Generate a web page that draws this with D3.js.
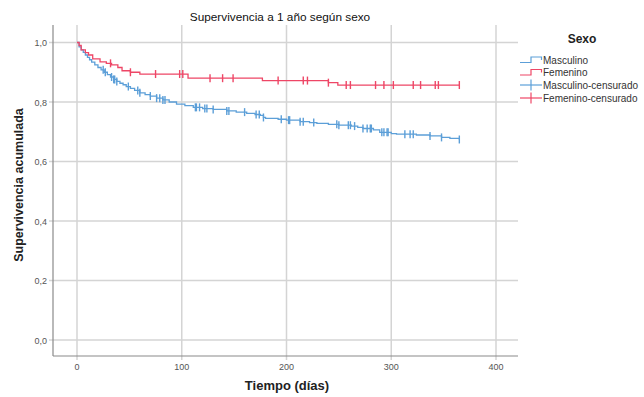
<!DOCTYPE html>
<html>
<head>
<meta charset="utf-8">
<script src="https://cdn.jsdelivr.net/npm/d3@7"></script>
<style>
  body { margin: 0; background: #fff; }
  text { font-family: "Liberation Sans", Arial, sans-serif; }
</style>
</head>
<body>
<script>
// Kaplan-Meier steps (time in days, cumulative survival)
const mascTime = [0, 2, 4, 6, 8, 10, 12, 14, 17, 20, 23, 26, 29, 32, 35, 38, 41, 44, 47, 51, 55, 60, 65, 70, 76, 82, 88, 95, 103, 111, 120, 130, 143, 152, 162, 170, 175, 178, 180, 192, 200, 213, 222, 229, 240, 250, 262, 268, 273, 283, 289, 300, 305, 324, 337, 348, 356, 365];
const mascSurv = [1.0, 0.985, 0.975, 0.967, 0.958, 0.95, 0.942, 0.934, 0.925, 0.916, 0.908, 0.9, 0.892, 0.884, 0.876, 0.869, 0.863, 0.858, 0.852, 0.846, 0.839, 0.831, 0.825, 0.82, 0.813, 0.807, 0.8, 0.793, 0.788, 0.782, 0.778, 0.775, 0.77, 0.766, 0.762, 0.758, 0.755, 0.748, 0.745, 0.742, 0.739, 0.734, 0.731, 0.728, 0.725, 0.722, 0.719, 0.715, 0.711, 0.706, 0.698, 0.694, 0.692, 0.689, 0.686, 0.681, 0.678, 0.674];
const femTime = [0, 2, 4, 8, 11, 15, 22, 28, 33, 39, 43, 51, 60, 106, 177, 240, 249, 365];
const femSurv = [1.0, 0.99, 0.975, 0.966, 0.958, 0.945, 0.935, 0.93, 0.925, 0.916, 0.905, 0.9, 0.894, 0.88, 0.872, 0.865, 0.857, 0.857];

// censored observations (days)
const mascCens = [25, 27, 33, 35, 36, 38, 49, 58, 60, 70, 76, 79, 82, 84, 113, 114, 117, 122, 124, 130, 143, 145, 160, 171, 174, 178, 195, 202, 203, 213, 216, 226, 248, 250, 259, 261, 265, 273, 277, 280, 281, 291, 293, 296, 297, 313, 318, 321, 337, 348, 365];
const femCens = [32, 51, 75, 98, 101, 127, 139, 149, 192, 216, 220, 240, 257, 261, 285, 293, 302, 321, 328, 342, 345, 365];

const xTicks = [0, 100, 200, 300, 400];
const yTicks = [0, 0.2, 0.4, 0.6, 0.8, 1.0];
const legendLabels = ["Masculino", "Femenino", "Masculino-censurado", "Femenino-censurado"];

const blue = "#5c9fd8";
const red = "#ee4666";

const W = 644, H = 397;
const svg = d3.select("body").append("svg").attr("width", W).attr("height", H);

const x = d3.scaleLinear().domain([0, 400]).range([77, 496]);
const y = d3.scaleLinear().domain([0, 1]).range([340, 42.5]);
const plotL = 53, plotR = 518, plotT = 25, plotB = 356;

// grid
svg.append("g").selectAll("line").data(yTicks).join("line")
  .attr("x1", plotL - 4).attr("x2", plotR)
  .attr("y1", d => y(d)).attr("y2", d => y(d))
  .attr("stroke", "#d4d4d4").attr("stroke-width", 1.5);
svg.append("g").selectAll("line").data(xTicks).join("line")
  .attr("x1", d => x(d)).attr("x2", d => x(d))
  .attr("y1", plotT).attr("y2", plotB + 4)
  .attr("stroke", "#d4d4d4").attr("stroke-width", 1.5);

// axes
svg.append("line").attr("x1", plotL).attr("x2", plotL).attr("y1", plotT).attr("y2", plotB)
  .attr("stroke", "#8a8a8a").attr("stroke-width", 1.2);
svg.append("line").attr("x1", plotL).attr("x2", plotR).attr("y1", plotB).attr("y2", plotB)
  .attr("stroke", "#8a8a8a").attr("stroke-width", 1.2);

const fmt = d => d3.format(".1f")(d).replace(".", ",");
svg.append("g").selectAll("text").data(yTicks).join("text")
  .attr("x", 47).attr("y", d => y(d) + 3.5)
  .attr("text-anchor", "end").attr("font-size", 9).attr("fill", "#555")
  .text(fmt);
svg.append("g").selectAll("text").data(xTicks).join("text")
  .attr("x", d => x(d)).attr("y", 370)
  .attr("text-anchor", "middle").attr("font-size", 9).attr("fill", "#555")
  .text(d => d);

// titles
svg.append("text").attr("x", 280).attr("y", 21).attr("text-anchor", "middle")
  .attr("font-size", 11.8).attr("fill", "#111").text("Supervivencia a 1 año según sexo");
svg.append("text").attr("x", 287).attr("y", 390).attr("text-anchor", "middle")
  .attr("font-size", 13).attr("font-weight", "bold").attr("fill", "#222").text("Tiempo (días)");
svg.append("text").attr("transform", "translate(23,185) rotate(-90)").attr("text-anchor", "middle")
  .attr("font-size", 12.5).attr("font-weight", "bold").attr("fill", "#222").text("Supervivencia acumulada");

// curves
const line = d3.line().x(d => x(d[0])).y(d => y(d[1])).curve(d3.curveStepAfter);
function survAt(times, surv, t) {
  const i = d3.bisectRight(times, t) - 1;
  return surv[Math.max(0, i)];
}
function drawGroup(times, surv, cens, color) {
  const pts = times.map((t, i) => [t, surv[i]]);
  svg.append("path").datum(pts).attr("d", line)
    .attr("fill", "none").attr("stroke", color).attr("stroke-width", 1.3);
  svg.append("g").selectAll("line").data(cens).join("line")
    .attr("x1", d => x(d)).attr("x2", d => x(d))
    .attr("y1", d => y(survAt(times, surv, d)) - 4)
    .attr("y2", d => y(survAt(times, surv, d)) + 4)
    .attr("stroke", color).attr("stroke-width", 1.4);
}
drawGroup(mascTime, mascSurv, mascCens, blue);
drawGroup(femTime, femSurv, femCens, red);

// legend
svg.append("text").attr("x", 582).attr("y", 43).attr("text-anchor", "middle")
  .attr("font-size", 12).attr("font-weight", "bold").attr("fill", "#222").text("Sexo");
const legY = [60, 72.5, 85, 98];
const legColors = [blue, red, blue, red];
legendLabels.forEach((lab, i) => {
  const g = svg.append("g").attr("transform", `translate(0,${legY[i]})`);
  if (i < 2) {
    g.append("path").attr("d", "M520,2.5H531V-3H541.5V0")
      .attr("fill", "none").attr("stroke", legColors[i]).attr("stroke-width", 1.2);
  } else {
    g.append("line").attr("x1", 520).attr("x2", 542).attr("y1", 0).attr("y2", 0)
      .attr("stroke", legColors[i]).attr("stroke-width", 1.2);
    g.append("line").attr("x1", 531).attr("x2", 531).attr("y1", -5.5).attr("y2", 5.5)
      .attr("stroke", legColors[i]).attr("stroke-width", 1.2);
  }
  g.append("text").attr("x", 543).attr("y", 3.5).attr("font-size", 10).attr("fill", "#333").text(lab);
});
</script>
</body>
</html>
